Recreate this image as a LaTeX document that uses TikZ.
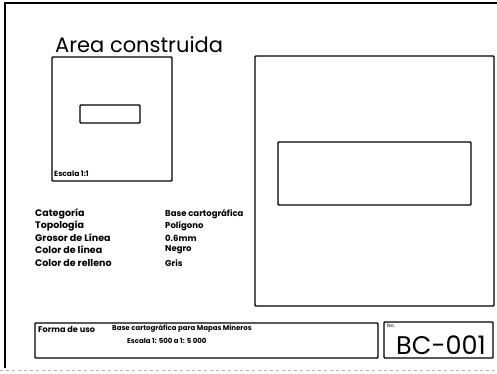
\documentclass[tikz,border=0pt]{standalone}
\usepackage{fontspec}
\setmainfont{Poppins}
\usetikzlibrary{positioning}

\tikzset{
    frame/.style={line width=1.8pt},
    box/.style={line width=1.4pt, rounded corners=0.8pt},
    lbl/.style={font=\fontsize{9.5}{10}\selectfont\bfseries, anchor=west, inner sep=0pt},
    val/.style={font=\fontsize{8.5}{10}\selectfont\bfseries, anchor=west, inner sep=0pt},
    pie/.style={font=\fontsize{7.5}{9}\selectfont\bfseries, anchor=west, inner sep=0pt},
}

\begin{document}
\begin{tikzpicture}[x=1pt, y=-1pt]
    \useasboundingbox (0,0) rectangle (497,373);

    % hoja
    \draw[frame] (5,368) -- (5,3) -- (497,3);
    \draw[gray!60, dashed, line width=1pt] (0,370) -- (497,370);

    \node[anchor=base west, inner sep=0pt, font=\fontsize{21}{22}\selectfont] (titulo) at (55,52) {Area construida};

    % muestra a escala 1:1
    \draw[box] (52,57) rectangle (172,181);
    \draw[box] (80,105) rectangle (140,123);
    \node[pie] (escala) at (54,174) {Escala 1:1};

    % muestra ampliada
    \draw[box] (255,56) rectangle (494,306);
    \draw[box] (278,142) rectangle (471,205);

    % atributos
    \node[lbl] (cat)  at (35,214) {Categoría};
    \node[lbl] (top)  at (35,226) {Topología};
    \node[lbl] (gro)  at (35,238) {Grosor de Línea};
    \node[lbl] (col)  at (35,250) {Color de línea};
    \node[lbl] (rel)  at (35,263) {Color de relleno};

    \node[val] (vcat) at (165,214) {Base cartográfica};
    \node[val] (vtop) at (165,226) {Polígono};
    \node[val] (vgro) at (165,238) {0.6mm};
    \node[val] (vcol) at (165,250) {Negro};
    \node[val] (vrel) at (165,263) {Gris};

    % cajetin
    \draw[box] (35,323) rectangle (378,358);
    \draw[box] (384,322) rectangle (493,358);

    \node[pie, font=\fontsize{8.2}{9}\selectfont\bfseries] (uso) at (38,329) {Forma de uso};
    \node[pie, font=\fontsize{7}{8}\selectfont\bfseries] (base) at (112,329) {Base cartográfica para Mapas Mineros};
    \node[pie, font=\fontsize{7}{8}\selectfont\bfseries] (esc)  at (127,341) {Escala 1: 500 a 1: 5 000};

    \node[pie, font=\fontsize{5}{6}\selectfont] (num) at (387,326) {No.};
    \node[anchor=base west, inner sep=0pt, font=\fontsize{25.5}{27}\selectfont] (codigo) at (396,354) {BC-001};
\end{tikzpicture}
\end{document}
